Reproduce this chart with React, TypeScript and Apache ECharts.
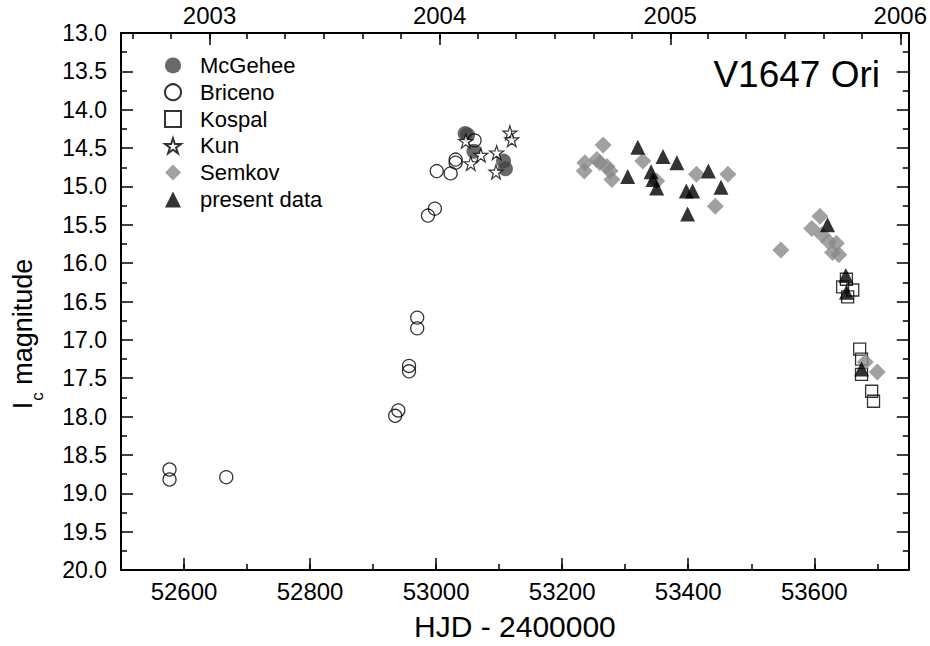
import React, { useEffect, useRef } from "react";
import * as echarts from "echarts";

// HJD - 2400000, I_c magnitude
const mcgehee: number[][] = [
  [53046, 14.31], [53050, 14.33], [53060, 14.54], [53107, 14.67], [53110, 14.77],
];
const briceno: number[][] = [
  [52577, 18.69], [52577, 18.82], [52667, 18.79],
  [52935, 17.99], [52940, 17.92], [52957, 17.34], [52957, 17.41],
  [52970, 16.71], [52970, 16.85], [52987, 15.38], [52998, 15.29],
  [53001, 14.8], [53023, 14.83], [53031, 14.65], [53031, 14.69], [53061, 14.4],
];
const kospal: number[][] = [
  [53651, 16.21], [53645, 16.31], [53661, 16.35], [53653, 16.44],
  [53672, 17.12], [53675, 17.25], [53675, 17.45], [53691, 17.67], [53694, 17.8],
];
const kun: number[][] = [
  [53047, 14.41], [53055, 14.7], [53071, 14.59], [53096, 14.56],
  [53095, 14.81], [53117, 14.3], [53120, 14.39],
];
const semkov: number[][] = [
  [53235, 14.8], [53236, 14.69], [53255, 14.65], [53265, 14.46], [53260, 14.69],
  [53271, 14.74], [53276, 14.8], [53279, 14.91], [53328, 14.67], [53350, 14.93],
  [53413, 14.84], [53463, 14.84], [53443, 15.26],
  [53547, 15.83], [53596, 15.55], [53609, 15.39], [53612, 15.63], [53623, 15.72],
  [53629, 15.86], [53635, 15.74], [53639, 15.89], [53681, 17.29], [53700, 17.42],
];
const present: number[][] = [
  [53320, 14.49], [53304, 14.87], [53341, 14.81], [53360, 14.61], [53382, 14.69],
  [53344, 14.91], [53350, 15.02], [53397, 15.06], [53407, 15.06], [53399, 15.36],
  [53432, 14.8], [53452, 15.01],
  [53621, 15.5], [53650, 16.16], [53651, 16.38], [53675, 17.38],
];

const xMajorTicks = [52600, 52800, 53000, 53200, 53400, 53600];
const years = [2003, 2004, 2005, 2006];
const tickYears = [2002, 2003, 2004, 2005, 2006];
const tickMonths = [0, 2, 4, 6, 8, 10];

const X_MIN = 52500;
const X_MAX = 53750;

const toHJD = (y: number, m: number) => Date.UTC(y, m, 1) / 86400000 + 40587.5;
const yearTicks = years.map((y) => toHJD(y, 0));
const monthTicks: number[] = [];
tickYears.forEach((y) =>
  tickMonths.forEach((m) => {
    const v = toHJD(y, m);
    if (v > X_MIN && v < X_MAX) monthTicks.push(v);
  })
);

const FONT = "'Liberation Sans', Arial, Helvetica, sans-serif";
const STAR =
  "path://M50,0 L61.2,34.5 L97.6,34.5 L68.2,55.9 L79.4,90.5 L50,69.1 L20.6,90.5 L31.8,55.9 L2.4,34.5 L38.8,34.5 Z";

export default function App() {
  const ref = useRef<HTMLDivElement>(null);
  useEffect(() => {
    if (!ref.current) return;
    const chart = echarts.init(ref.current, undefined, { renderer: "svg" });
    const axisLineStyle = { color: "#000", width: 2 };
    const tickStyle = { color: "#000", width: 1.5 };
    const baseX = { type: "value", min: X_MIN, max: X_MAX, splitLine: { show: false } };
    const baseY = {
      type: "value",
      inverse: true,
      min: 13,
      max: 20,
      interval: 0.5,
      splitLine: { show: false },
      minorSplitLine: { show: false },
      axisLine: { show: true, onZero: false, lineStyle: axisLineStyle },
      axisTick: { show: true, inside: true, length: 12, lineStyle: tickStyle },
      minorTick: { show: true, splitNumber: 2, length: 6, lineStyle: tickStyle },
    };
    chart.setOption({
      animation: false,
      backgroundColor: "#fff",
      textStyle: { fontFamily: FONT, color: "#000" },
      grid: { left: 121, top: 33, width: 788, height: 540, containLabel: false },
      title: {
        text: "V1647 Ori",
        right: 45,
        top: 51,
        textStyle: { fontSize: 37, fontWeight: "normal", fontFamily: FONT, color: "#000" },
      },
      legend: {
        orient: "vertical",
        left: 159,
        top: 47,
        itemWidth: 16,
        itemHeight: 16,
        itemGap: 0,
        textStyle: { fontSize: 22, fontFamily: FONT, color: "#000", lineHeight: 26.8, padding: [0, 0, 0, 14] },
        data: ["McGehee", "Briceno", "Kospal", "Kun", "Semkov", "present data"],
      },
      xAxis: [
        {
          ...baseX,
          position: "bottom",
          axisLine: { show: true, onZero: false, lineStyle: axisLineStyle },
          axisTick: { show: true, inside: true, length: 12, customValues: xMajorTicks, lineStyle: tickStyle },
          axisLabel: {
            customValues: xMajorTicks,
            fontSize: 24,
            fontFamily: FONT,
            color: "#000",
            margin: 9,
            formatter: (v: number) => String(v),
          },
          name: "HJD - 2400000",
          nameLocation: "middle",
          nameGap: 41,
          nameTextStyle: { fontSize: 30, fontFamily: FONT, color: "#000" },
        },
        {
          ...baseX,
          position: "bottom",
          interval: 100,
          axisLine: { show: false },
          axisTick: { show: true, inside: true, length: 6, lineStyle: tickStyle },
          axisLabel: { show: false },
        },
        {
          ...baseX,
          position: "top",
          axisLine: { show: true, onZero: false, lineStyle: axisLineStyle },
          axisTick: { show: true, inside: true, length: 12, customValues: yearTicks, lineStyle: tickStyle },
          axisLabel: {
            customValues: yearTicks,
            fontSize: 24,
            fontFamily: FONT,
            color: "#000",
            margin: 6,
            formatter: (v: number) => String(new Date((v - 40587.5) * 86400000 + 3600000).getUTCFullYear()),
          },
        },
        {
          ...baseX,
          position: "top",
          axisLine: { show: false },
          axisTick: { show: true, inside: true, length: 6, customValues: monthTicks, lineStyle: tickStyle },
          axisLabel: { show: false },
        },
      ],
      yAxis: [
        {
          ...baseY,
          position: "left",
          axisLabel: {
            fontSize: 23,
            fontFamily: FONT,
            color: "#000",
            margin: 14,
            formatter: (v: number) => v.toFixed(1),
          },
        },
        { ...baseY, position: "right", axisLabel: { show: false } },
      ],
      graphic: [
        {
          type: "text",
          x: 9,
          y: 334,
          rotation: Math.PI / 2,
          style: {
            text: "{a|I}{b|c}{a| magnitude}",
            align: "center",
            verticalAlign: "top",
            fill: "#000",
            rich: {
              a: { fontSize: 27, fontFamily: FONT, lineHeight: 27, verticalAlign: "top", fill: "#000" },
              b: {
                fontSize: 17,
                fontFamily: FONT,
                lineHeight: 17,
                padding: [20, 0, 0, 1],
                verticalAlign: "top",
                fill: "#000",
              },
            },
          },
        },
      ],
      series: [
        {
          name: "McGehee",
          type: "scatter",
          data: mcgehee,
          symbol: "circle",
          symbolSize: 15,
          itemStyle: { color: "#444444" },
        },
        {
          name: "Briceno",
          type: "scatter",
          data: briceno,
          symbol: "circle",
          symbolSize: 13,
          itemStyle: { color: "rgba(255,255,255,0)", borderColor: "#000", borderWidth: 1.3 },
        },
        {
          name: "Kospal",
          type: "scatter",
          data: kospal,
          symbol: "rect",
          symbolSize: 12,
          itemStyle: { color: "rgba(255,255,255,0)", borderColor: "#000", borderWidth: 1.3 },
        },
        {
          name: "Kun",
          type: "scatter",
          data: kun,
          symbol: STAR,
          symbolSize: 14,
          itemStyle: { color: "#fff", borderColor: "#000", borderWidth: 1.2 },
        },
        {
          name: "Semkov",
          type: "scatter",
          data: semkov,
          symbol: "diamond",
          symbolSize: 17,
          itemStyle: { color: "#8a8a8a" },
        },
        {
          name: "present data",
          type: "scatter",
          data: present,
          symbol: "triangle",
          symbolSize: 15,
          itemStyle: { color: "#000" },
        },
      ],
    });
    return () => chart.dispose();
  }, []);
  return (
    <div
      ref={ref}
      style={{ position: "fixed", left: 0, top: 0, width: 930, height: 646, background: "#fff" }}
    />
  );
}
